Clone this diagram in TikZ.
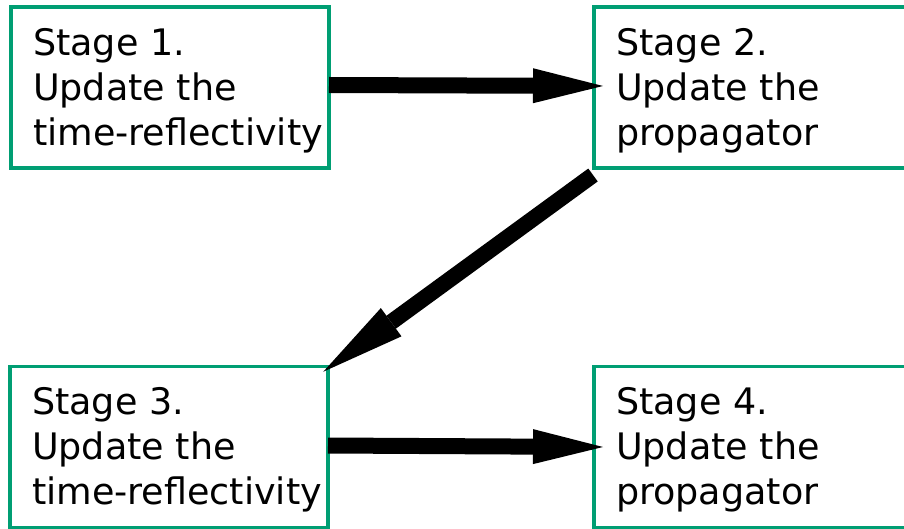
\documentclass[tikz,border=0pt]{standalone}
\usepackage{fontspec}
\setmainfont{DejaVu Sans}
\usetikzlibrary{arrows.meta,calc}
\definecolor{boxgreen}{RGB}{0,158,115}
\newcommand{\stagetext}[3]{\makebox[274pt][l]{\begin{tabular}[t]{@{}l@{}}#1\\#2\\#3\end{tabular}}}
\begin{document}
\begin{tikzpicture}[x=1pt,y=-1pt,
  stagebox/.style={draw=boxgreen, line width=3.3pt, rectangle,
    minimum width=318pt, minimum height=161pt, inner xsep=22pt, inner ysep=0pt,
    outer sep=0pt, text height=31pt, text depth=95.4pt,
    font=\fontsize{36.5pt}{45pt}\selectfont},
  flow/.style={line width=16pt, -{Triangle[length=70pt,width=35pt,line width=0pt]}},
  longflow/.style={line width=16pt, -{Triangle[length=84pt,width=35pt,line width=0pt]}}]
\useasboundingbox (0,0) rectangle (904,529);
\clip (0,0) rectangle (904,529);
\node[stagebox] (b1) at (170,87.5) {\stagetext{Stage 1.}{Update the}{time-reflectivity}};
\node[stagebox] (b2) at (753,87.5) {\stagetext{Stage 2.}{Update the}{propagator}};
\node[stagebox] (b3) at (169,447) {\stagetext{Stage 3.}{Update the}{time-reflectivity}};
\node[stagebox] (b4) at (753,447) {\stagetext{Stage 4.}{Update the}{propagator}};
\draw[flow] ($(b1.east)+(0,-2.5)$) -- ($(b2.west)+(9,-1.5)$);
\draw[longflow] ($(b2.south west)+(-1,7)$) -- ($(b3.north east)+(-4.7,5.2)$);
\draw[flow] ($(b3.east)+(0,-1.5)$) -- ($(b4.west)+(9,0)$);
\end{tikzpicture}
\end{document}
